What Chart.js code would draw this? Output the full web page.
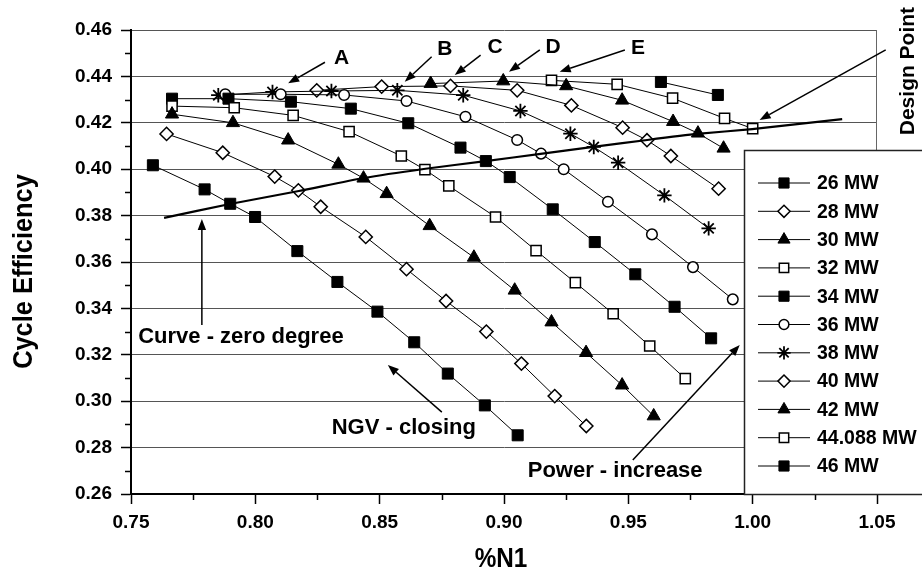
<!DOCTYPE html>
<html><head><meta charset="utf-8">
<script src="https://cdn.jsdelivr.net/npm/chart.js@4.4.1/dist/chart.umd.min.js"></script>
<style>html,body{margin:0;padding:0;background:#fff;}#wrap{width:922px;height:573px;}</style>
</head><body><div id="wrap"><canvas id="c" width="922" height="573"></canvas></div>
<script>
// ---------- data ----------
const seriesNames = ['26 MW','28 MW','30 MW','32 MW','34 MW','36 MW','38 MW','40 MW','42 MW','44.088 MW','46 MW'];

const n1_26  = [0.7588,0.7796,0.7899,0.7999,0.8169,0.8330,0.8491,0.8639,0.8774,0.8923,0.9055];
const eff_26 = [0.4017,0.3913,0.3851,0.3794,0.3647,0.3514,0.3386,0.3254,0.3119,0.2982,0.2853];

const n1_28  = [0.7643,0.7869,0.8078,0.8173,0.8263,0.8444,0.8608,0.8767,0.8929,0.9070,0.9204,0.9331];
const eff_28 = [0.4152,0.4071,0.3968,0.3909,0.3838,0.3708,0.3569,0.3432,0.3300,0.3162,0.3022,0.2893];

const n1_30  = [0.7665,0.7910,0.8132,0.8334,0.8435,0.8528,0.8701,0.8879,0.9043,0.9191,0.9330,0.9475,0.9602];
const eff_30 = [0.4237,0.4200,0.4125,0.4021,0.3961,0.3894,0.3756,0.3620,0.3478,0.3341,0.3209,0.3069,0.2936];

const n1_32  = [0.7665,0.7915,0.8152,0.8377,0.8587,0.8682,0.8778,0.8966,0.9129,0.9287,0.9439,0.9586,0.9729];
const eff_32 = [0.4272,0.4265,0.4232,0.4162,0.4057,0.3998,0.3928,0.3794,0.3649,0.3511,0.3377,0.3238,0.3097];

const n1_34  = [0.7665,0.7892,0.8143,0.8384,0.8615,0.8825,0.8927,0.9023,0.9196,0.9365,0.9528,0.9686,0.9833];
const eff_34 = [0.4304,0.4304,0.4291,0.4261,0.4198,0.4093,0.4035,0.3966,0.3827,0.3686,0.3547,0.3407,0.3271];

const n1_36  = [0.7879,0.8102,0.8357,0.8608,0.8845,0.9053,0.9149,0.9240,0.9418,0.9595,0.9760,0.9920];
const eff_36 = [0.4323,0.4323,0.4320,0.4294,0.4226,0.4126,0.4067,0.4000,0.3860,0.3719,0.3578,0.3439];

const n1_38  = [0.7851,0.8069,0.8306,0.8571,0.8836,0.9066,0.9267,0.9361,0.9459,0.9645,0.9823];
const eff_38 = [0.4319,0.4333,0.4337,0.4340,0.4319,0.4251,0.4153,0.4096,0.4028,0.3887,0.3745];

const n1_40  = [0.8247,0.8508,0.8785,0.9053,0.9271,0.9477,0.9575,0.9671,0.9863];
const eff_40 = [0.4340,0.4356,0.4359,0.4340,0.4275,0.4179,0.4125,0.4057,0.3916];

const n1_42  = [0.8705,0.8997,0.9250,0.9475,0.9680,0.9780,0.9883];
const eff_42 = [0.4369,0.4380,0.4359,0.4297,0.4205,0.4155,0.4090];

const n1_44  = [0.9191,0.9455,0.9678,0.9887,1.0000];
const eff_44 = [0.4383,0.4366,0.4306,0.4219,0.4175];

const n1_46  = [0.9631,0.9860];
const eff_46 = [0.4376,0.4320];

// zero-degree NGV curve
const zeroN1  = [0.7633,0.7898,0.8175,0.8436,0.8677,0.8926,0.9147,0.9359,0.9576,0.9777,0.9998,1.0360];
const zeroEff = [0.3790,0.3850,0.3906,0.3962,0.4001,0.4035,0.4066,0.4096,0.4126,0.4152,0.4173,0.4216];

// tick labels
const xTickValues = [0.75,0.80,0.85,0.90,0.95,1.00,1.05];
const yTickValues = [0.26,0.28,0.30,0.32,0.34,0.36,0.38,0.40,0.42,0.44,0.46];
const xMinorTicks = [0.775,0.825,0.875,0.925,0.975,1.025];
const yMinorTicks = [0.27,0.29,0.31,0.33,0.35,0.37,0.39,0.41,0.43,0.45];

const xTitle = '%N1';
const yTitle = 'Cycle Efficiency';

// ---------- styling ----------
const seriesX = [n1_26,n1_28,n1_30,n1_32,n1_34,n1_36,n1_38,n1_40,n1_42,n1_44,n1_46];
const seriesY = [eff_26,eff_28,eff_30,eff_32,eff_34,eff_36,eff_38,eff_40,eff_42,eff_44,eff_46];
const markerStyle  = ['rect','rectRot','triangle','rect','rect','circle','star','rectRot','triangle','rect','rect'];
const markerFilled = [true,false,true,false,true,false,false,false,true,false,true];
function markerRadius(style, filled){
  if(style==='rect') return filled ? 7.8 : 7.2;
  if(style==='rectRot') return 6.6;
  if(style==='triangle') return 7.6;
  if(style==='circle') return 5.3;
  if(style==='star') return 7.2;
  return 6;
}

const FONT = '"Liberation Sans", Arial, Helvetica, sans-serif';

const datasets = seriesNames.map((name,i)=>({
  label: name,
  data: seriesX[i].map((x,j)=>({x:x, y:seriesY[i][j]})),
  borderColor:'#000', borderWidth:1, tension:0, showLine:true, fill:false,
  pointStyle: markerStyle[i],
  pointRadius: markerRadius(markerStyle[i], markerFilled[i]),
  pointBackgroundColor: markerFilled[i] ? '#000' : '#fff',
  pointBorderColor:'#000',
  pointBorderWidth: markerStyle[i]==='star' ? 1.8 : (markerFilled[i] ? 1 : 1.5),
  clip: 8
}));
datasets.unshift({
  label:'zero degree',
  data: zeroN1.map((x,j)=>({x:x, y:zeroEff[j]})),
  borderColor:'#000', borderWidth:2.2, pointRadius:0, tension:0.2, showLine:true, fill:false
});

// annotations (data coordinates)
const letterLabels = [
  {t:'A', x:0.8347, y:0.4478}, {t:'B', x:0.8762, y:0.4517}, {t:'C', x:0.8964, y:0.4525},
  {t:'D', x:0.9197, y:0.4528}, {t:'E', x:0.9539, y:0.4521}
];
const arrows = [
  [0.8280,0.4461,0.8132,0.4370],
  [0.8709,0.4485,0.8601,0.4377],
  [0.8906,0.4492,0.8802,0.4406],
  [0.9144,0.4514,0.9020,0.4420],
  [0.9486,0.4514,0.9224,0.4420],
  [1.0535,0.4514,1.0028,0.4212],
  [0.7785,0.3328,0.7785,0.3785],
  [0.8750,0.2953,0.8533,0.3156],
  [0.9518,0.2747,0.9948,0.3242]
];
const noteTexts = [
  {t:'Curve - zero degree', x:0.7942, y:0.3277},
  {t:'NGV - closing', x:0.8597, y:0.2884},
  {t:'Power - increase', x:0.9447, y:0.2700}
];
const designText = {t:'Design Point', x:1.0620, y:0.4423};

function drawArrow(ctx,x1,y1,x2,y2){
  const a = Math.atan2(y2-y1,x2-x1), len=11, w=4.2;
  const bx = x2 - len*Math.cos(a), by = y2 - len*Math.sin(a);
  ctx.beginPath(); ctx.moveTo(x1,y1); ctx.lineTo(bx,by); ctx.stroke();
  ctx.beginPath();
  ctx.moveTo(x2,y2);
  ctx.lineTo(bx + w*Math.sin(a), by - w*Math.cos(a));
  ctx.lineTo(bx - w*Math.sin(a), by + w*Math.cos(a));
  ctx.closePath(); ctx.fill();
}

const decorPlugin = {
  id:'decor',
  afterDraw(chart){
    const ctx = chart.ctx, xs = chart.scales.x, ys = chart.scales.y, ca = chart.chartArea;
    ctx.save();
    // right frame line
    ctx.strokeStyle='#666'; ctx.lineWidth=1;
    ctx.beginPath(); ctx.moveTo(ca.right-0.5, ca.top); ctx.lineTo(ca.right-0.5, ca.bottom); ctx.stroke();
    // minor ticks
    ctx.strokeStyle='#000'; ctx.lineWidth=1.5;
    yMinorTicks.forEach(v=>{ const p=Math.round(ys.getPixelForValue(v))+0.5; ctx.beginPath(); ctx.moveTo(ca.left-6,p); ctx.lineTo(ca.left,p); ctx.stroke(); });
    xMinorTicks.forEach(v=>{ const p=Math.round(xs.getPixelForValue(v))+0.5; ctx.beginPath(); ctx.moveTo(p,ca.bottom); ctx.lineTo(p,ca.bottom+6); ctx.stroke(); });
    // arrows
    ctx.strokeStyle='#000'; ctx.fillStyle='#000'; ctx.lineWidth=1.5;
    arrows.forEach(a=>drawArrow(ctx, xs.getPixelForValue(a[0]), ys.getPixelForValue(a[1]), xs.getPixelForValue(a[2]), ys.getPixelForValue(a[3])));
    // letters
    ctx.textAlign='center'; ctx.textBaseline='middle';
    ctx.font='bold 21px '+FONT;
    letterLabels.forEach(l=>ctx.fillText(l.t, xs.getPixelForValue(l.x), ys.getPixelForValue(l.y)));
    ctx.font='bold 22px '+FONT;
    noteTexts.forEach(l=>ctx.fillText(l.t, xs.getPixelForValue(l.x), ys.getPixelForValue(l.y)));
    // design point (rotated)
    ctx.save();
    ctx.translate(xs.getPixelForValue(designText.x), ys.getPixelForValue(designText.y));
    ctx.rotate(-Math.PI/2);
    ctx.font='bold 21px '+FONT; ctx.textBaseline='alphabetic';
    ctx.fillText(designText.t, 0, 7);
    ctx.restore();
    // axis titles
    ctx.textBaseline='alphabetic'; ctx.textAlign='center';
    ctx.save();
    ctx.translate((ca.left+ca.right)/2 - 3, 567);
    ctx.scale(0.9, 1);
    ctx.font='bold 27px '+FONT;
    ctx.fillText(xTitle, 0, 0);
    ctx.restore();
    ctx.save();
    ctx.translate(32, 271.5);
    ctx.rotate(-Math.PI/2);
    ctx.scale(0.94, 1);
    ctx.font='bold 27px '+FONT;
    ctx.fillText(yTitle, 0, 0);
    ctx.restore();
    // legend box
    const L=744, T=150, B=ca.bottom;
    ctx.fillStyle='#fff'; ctx.fillRect(L, T, 922-L+5, B-T);
    ctx.strokeStyle='#222'; ctx.lineWidth=1.5;
    ctx.strokeRect(L+0.5, T+0.5, 922-L+5, B-T);
    const rowY0 = 183, rowStep = 28.3;
    seriesNames.forEach((name,i)=>{
      const y = rowY0 + i*rowStep;
      ctx.strokeStyle='#000'; ctx.lineWidth=1;
      ctx.beginPath(); ctx.moveTo(758,y); ctx.lineTo(810,y); ctx.stroke();
      const ds = chart.data.datasets[i+1];
      ctx.fillStyle = ds.pointBackgroundColor; ctx.strokeStyle='#000'; ctx.lineWidth = ds.pointBorderWidth;
      Chart.helpers.drawPoint(ctx, {pointStyle: ds.pointStyle, radius: ds.pointRadius*0.92, borderWidth: ds.pointBorderWidth, rotation:0}, 784, y);
      ctx.fillStyle='#000'; ctx.textAlign='left'; ctx.textBaseline='middle';
      ctx.font='bold 19.5px '+FONT;
      ctx.fillText(name, 817, y+1);
    });
    ctx.restore();
  }
};

new Chart(document.getElementById('c'), {
  type:'line',
  data:{datasets:datasets},
  options:{
    responsive:false, animation:false, devicePixelRatio:1,
    layout:{padding:{top:30, right:45, left:0, bottom:0}},
    plugins:{legend:{display:false}, tooltip:{enabled:false}},
    scales:{
      x:{
        type:'linear', min:0.75, max:1.05,
        afterBuildTicks: s => { s.ticks = xTickValues.map(v=>({value:v})); },
        afterFit: s => { s.height = 79; },
        grid:{drawOnChartArea:false, drawTicks:true, tickLength:10, tickColor:'#000', tickWidth:1.5},
        border:{display:true, color:'#000', width:2},
        ticks:{autoSkip:false, maxRotation:0, padding:7, color:'#000', font:{family:FONT, size:19, weight:'bold'}, callback:v=>Number(v).toFixed(2)}
      },
      y:{
        type:'linear', min:0.26, max:0.46,
        afterBuildTicks: s => { s.ticks = yTickValues.map(v=>({value:v})); },
        afterFit: s => { s.width = 131; },
        grid:{drawOnChartArea:true, color:'#555', lineWidth:1, drawTicks:true, tickLength:10, tickColor:'#000', tickWidth:1.5},
        border:{display:true, color:'#000', width:2},
        ticks:{autoSkip:false, padding:9, color:'#000', font:{family:FONT, size:19, weight:'bold'}, callback:v=>Number(v).toFixed(2)}
      }
    }
  },
  plugins:[decorPlugin]
});
</script>
</body></html>
